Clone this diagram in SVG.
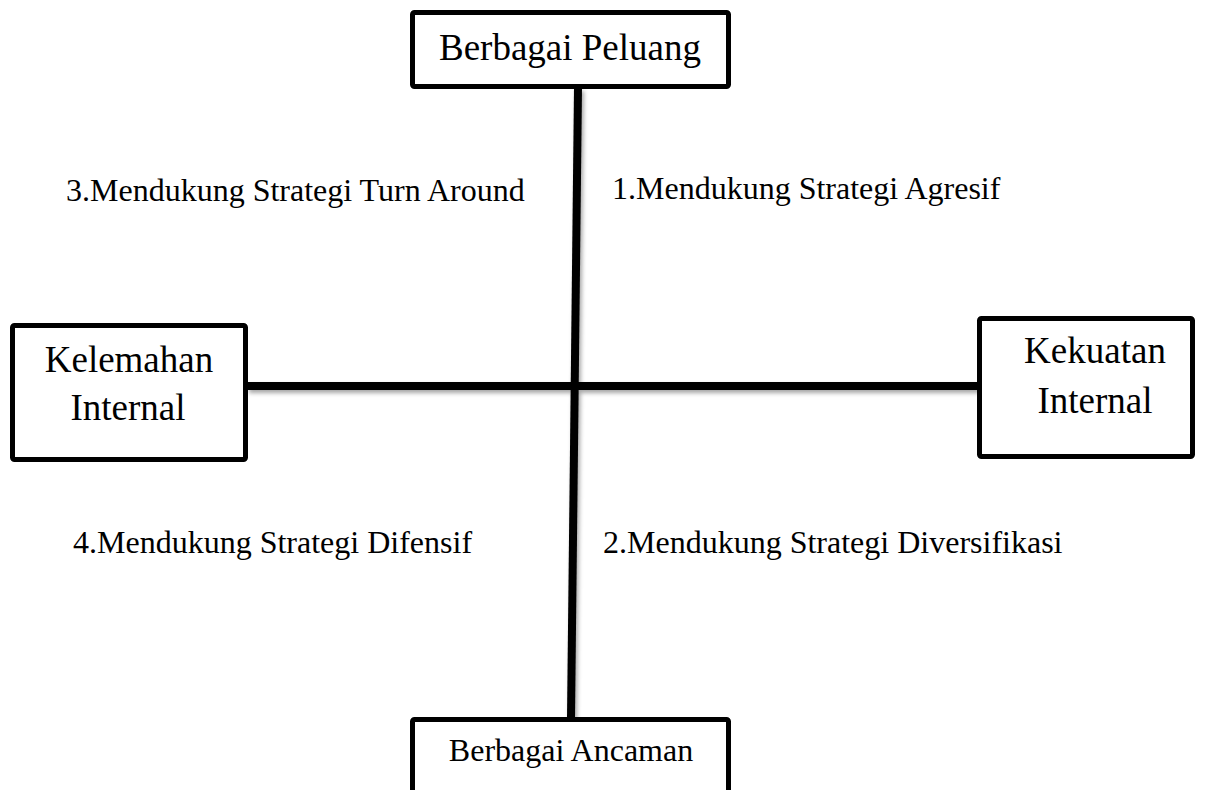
<svg xmlns="http://www.w3.org/2000/svg" width="1211" height="790" viewBox="0 0 1211 790">
<defs>
<style>
.box{fill:#fff;stroke:#000;stroke-width:5}
.t{font-family:"Liberation Serif","Times New Roman",serif;fill:#000;text-anchor:middle}
.big{font-size:37px}
.mid{font-size:32px}
.lbl{font-family:"Liberation Serif","Times New Roman",serif;fill:#000;font-size:32px}
.ln{stroke:#000;stroke-width:8;fill:none}
</style>
<filter id="sh" x="-5%" y="-5%" width="110%" height="110%">
<feDropShadow dx="2" dy="3" stdDeviation="2" flood-color="#000" flood-opacity="0.35"/>
</filter>
</defs>
<rect width="1211" height="790" fill="#fff"/>
<g id="connectors" filter="url(#sh)">
<line class="ln" x1="578" y1="88" x2="571" y2="718"/>
<line class="ln" x1="247" y1="386" x2="978" y2="386"/>
</g>
<g id="peluang">
<rect class="box" x="412.5" y="12.5" width="316" height="74" rx="2"/>
<text class="t big" x="570" y="60">Berbagai Peluang</text>
</g>
<g id="kelemahan">
<rect class="box" x="12.5" y="325.5" width="233" height="134" rx="2"/>
<text class="t big" x="129" y="372">Kelemahan</text>
<text class="t big" x="128" y="420">Internal</text>
</g>
<g id="kekuatan">
<rect class="box" x="979.5" y="318.5" width="213" height="138" rx="2"/>
<text class="t big" x="1095" y="363">Kekuatan</text>
<text class="t big" x="1095" y="413">Internal</text>
</g>
<g id="ancaman">
<rect class="box" x="412.5" y="719.5" width="316" height="90" rx="2"/>
<text class="t mid" x="571" y="761">Berbagai Ancaman</text>
</g>
<g id="labels">
<text class="lbl" x="66" y="201">3.Mendukung Strategi Turn Around</text>
<text class="lbl" x="612" y="199">1.Mendukung Strategi Agresif</text>
<text class="lbl" x="73" y="553">4.Mendukung Strategi Difensif</text>
<text class="lbl" x="603" y="553">2.Mendukung Strategi Diversifikasi</text>
</g>
</svg>
